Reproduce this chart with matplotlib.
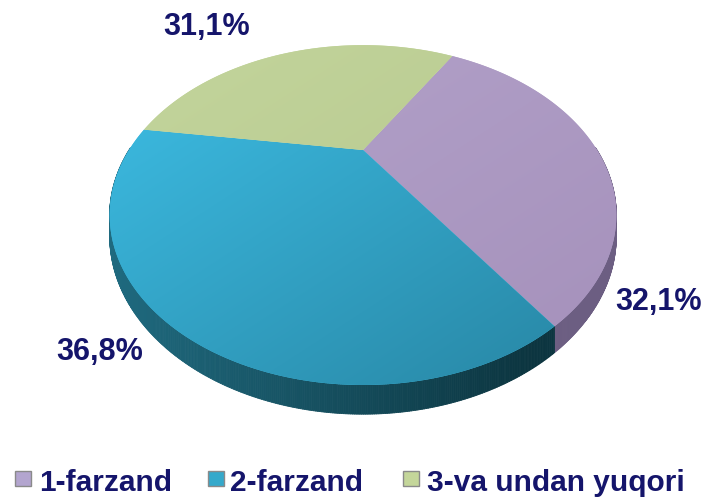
import numpy as np
import matplotlib
matplotlib.use("Agg")
import matplotlib.pyplot as plt
from matplotlib.patches import Polygon, Rectangle
from matplotlib.collections import PolyCollection
from matplotlib.colors import to_rgb

# ---- data ----
categories = ["1-farzand", "2-farzand", "3-va undan yuqori"]
values = [32.1, 36.8, 31.1]
value_labels = ["32,1%", "36,8%", "31,1%"]

# ---- style ----
top_light = ["#B2A1C9", "#3BB8DE", "#C1D39A"]
top_dark = ["#A793BD", "#2A8CAB", "#B6C78D"]
wall_light = ["#8A79A0", "#1F6A7F", "#8FA36A"]
wall_dark = ["#6C5E82", "#0C3540", "#7A8C58"]
legend_colors = ["#B3A5CF", "#35A9CB", "#C4D69A"]
text_color = "#15156B"

# projection parameters (pixel space)
cx, cy = 363.0, 150.0
R, Ry, p, h = 234.0, 145.0, 0.383, 18.0
start_angle = 59.5


def proj(theta_deg, r=1.0, drop=0.0):
    t = np.radians(theta_deg)
    u = r * np.cos(t)
    v = r * np.sin(t)
    k = 1.0 / (1.0 + p * v)
    return cx + R * u * k, cy - Ry * v * k + drop * k


fig = plt.figure(figsize=(7.1, 4.98), dpi=100)
ax = fig.add_axes([0, 0, 1, 1])
ax.set_xlim(0, 710)
ax.set_ylim(498, 0)
ax.axis("off")

fracs = np.array(values) / np.sum(values)
bounds = [start_angle]
for f in fracs:
    bounds.append(bounds[-1] - f * 360.0)

# ---- side walls (front half only) ----
for i in range(len(values)):
    a0, a1 = bounds[i], bounds[i + 1]
    th = np.linspace(a0, a1, 400)
    front = np.sin(np.radians(th)) <= 0.02
    th = th[front]
    if len(th) < 2:
        continue
    quads, cols = [], []
    c1, c2 = np.array(to_rgb(wall_light[i])), np.array(to_rgb(wall_dark[i]))
    for j in range(len(th) - 1):
        xa, ya = proj(th[j])
        xb, yb = proj(th[j + 1])
        xc, yc = proj(th[j + 1], drop=h)
        xd, yd = proj(th[j], drop=h)
        quads.append([(xa, ya), (xb, yb), (xc, yc), (xd, yd)])
        tt = np.clip((xa - 110) / 420.0, 0, 1)
        cols.append(c1 * (1 - tt) + c2 * tt)
    pc = PolyCollection(quads, facecolors=cols, edgecolors=cols, linewidths=0.6)
    ax.add_collection(pc)

# ---- top faces with gradient ----
yy, xx = np.mgrid[0:498, 0:710]
for i in range(len(values)):
    a0, a1 = bounds[i], bounds[i + 1]
    th = np.linspace(a0, a1, 300)
    xs, ys = proj(th)
    pts = np.vstack([[cx, cy], np.column_stack([xs, ys])])
    poly = Polygon(pts, closed=True, facecolor=top_light[i], edgecolor="none")
    ax.add_patch(poly)
    g = np.clip(((xx - 150) * 0.55 + (yy - 100) * 0.85) / 420.0, 0, 1)
    c1, c2 = np.array(to_rgb(top_light[i])), np.array(to_rgb(top_dark[i]))
    img = c1[None, None, :] * (1 - g[..., None]) + c2[None, None, :] * g[..., None]
    im = ax.imshow(img, extent=(0, 710, 498, 0), interpolation="bilinear", zorder=2)
    im.set_clip_path(poly)
    poly.set_zorder(2)

ax.set_xlim(0, 710)
ax.set_ylim(498, 0)
ax.set_aspect("auto")

# ---- value labels ----
label_pos = [(659, 302), (100, 352), (207, 27)]
for lab, (lx, ly) in zip(value_labels, label_pos):
    ax.text(lx, ly, lab, ha="center", va="center", fontsize=22, fontweight="bold",
            family="Liberation Sans", color=text_color, zorder=5)

# ---- legend ----
sq_x = [15, 208, 403]
tx_x = [39, 230, 427]
for i, cat in enumerate(categories):
    ax.add_patch(Rectangle((sq_x[i], 471), 16, 15, facecolor=legend_colors[i],
                           edgecolor="#8A8A8A", linewidth=1.0, zorder=5))
    ax.text(tx_x[i], 491, cat, ha="left", va="baseline", fontsize=21.5, fontweight="bold",
            family="Liberation Sans", color=text_color, zorder=5)

fig.savefig("out.png", dpi=100)
